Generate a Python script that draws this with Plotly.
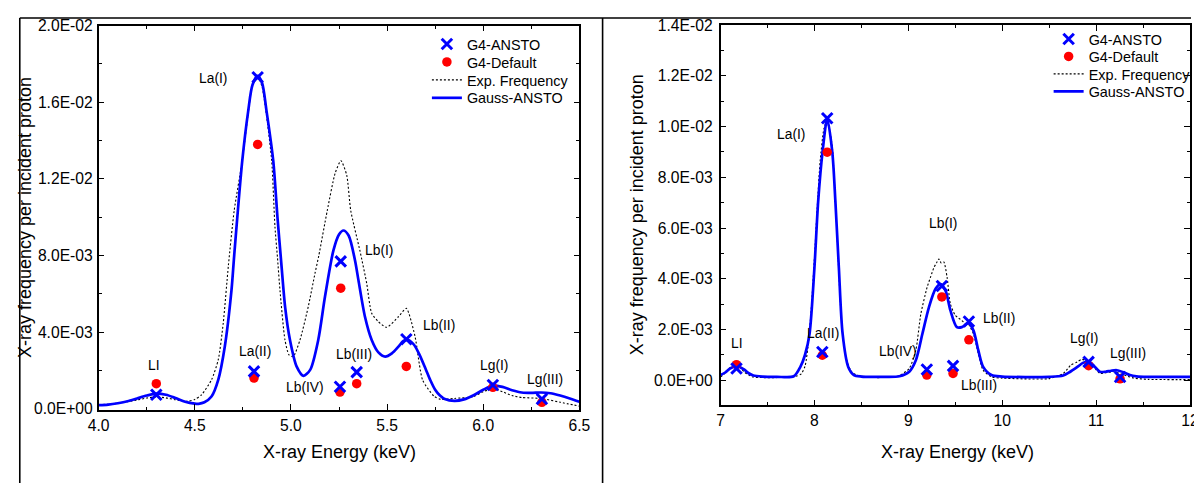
import plotly.graph_objects as go

# ---------------- data (left panel) ----------------
L_lines = ["LI", "La(I)", "La(II)", "Lb(I)", "Lb(IV)", "Lb(III)", "Lb(II)", "Lg(I)", "Lg(III)"]
L_energy = [4.30, 4.827, 4.808, 5.259, 5.255, 5.342, 5.600, 6.050, 6.305]
L_g4_ansto = [0.74e-3, 1.73e-2, 1.96e-3, 7.70e-3, 1.16e-3, 1.92e-3, 3.64e-3, 1.25e-3, 0.52e-3]
L_g4_default = [1.32e-3, 1.38e-2, 1.61e-3, 6.30e-3, 0.88e-3, 1.32e-3, 2.22e-3, 1.13e-3, 0.35e-3]

L_gauss_E = [4.00, 4.05, 4.10, 4.15, 4.20, 4.25, 4.30, 4.35, 4.40, 4.45, 4.50, 4.52, 4.55, 4.587,
             4.622, 4.656, 4.691, 4.705, 4.747, 4.778, 4.80, 4.827, 4.85, 4.873, 4.908, 4.93,
             4.95, 4.97, 4.995, 5.03, 5.065, 5.10, 5.142, 5.177, 5.221, 5.25, 5.273, 5.30,
             5.333, 5.351, 5.385, 5.42, 5.455, 5.49, 5.525, 5.559, 5.585, 5.61, 5.64, 5.67,
             5.70, 5.725, 5.75, 5.775, 5.80, 5.85, 5.90, 5.95, 6.00, 6.05, 6.10, 6.15, 6.20,
             6.25, 6.30, 6.35, 6.40, 6.45, 6.50]
L_gauss_V = [0.20, 0.23, 0.30, 0.40, 0.55, 0.70, 0.80, 0.74, 0.57, 0.38, 0.28, 0.27, 0.35, 0.65,
             1.52, 3.25, 6.2, 8.0, 12.95, 15.55, 16.9, 17.37, 17.0, 15.55, 12.95, 10.0,
             7.6, 5.3, 3.6, 2.21, 1.73, 2.04, 3.6, 5.85, 8.27, 9.1, 9.31, 9.05,
             7.76, 6.72, 4.81, 3.6, 2.95, 2.73, 2.9, 3.25, 3.55, 3.6, 3.35, 2.8,
             2.1, 1.5, 1.0, 0.7, 0.52, 0.42, 0.5, 0.72, 1.0, 1.22, 1.15, 0.98, 0.86,
             0.84, 0.86, 0.82, 0.70, 0.55, 0.38]

L_exp_E = [4.00, 4.05, 4.10, 4.15, 4.20, 4.25, 4.30, 4.35, 4.40, 4.466, 4.50, 4.535, 4.587,
           4.622, 4.648, 4.675, 4.705, 4.747, 4.78, 4.80, 4.827, 4.85, 4.87, 4.90, 4.917,
           4.93, 4.943, 4.969, 4.99, 5.012, 5.047, 5.09, 5.125, 5.145, 5.189, 5.23, 5.26,
           5.29, 5.311, 5.36, 5.394, 5.42, 5.455, 5.498, 5.559, 5.60, 5.645, 5.685, 5.745,
           5.78, 5.85, 5.95, 6.00, 6.05, 6.10, 6.15, 6.20, 6.30, 6.40, 6.50]
L_exp_V = [0.22, 0.25, 0.30, 0.38, 0.47, 0.57, 0.63, 0.58, 0.48, 0.40, 0.50, 0.74, 1.52,
           2.56, 4.47, 7.5, 10.35, 12.95, 15.6, 16.9, 17.35, 16.8, 15.55, 12.95, 9.5,
           7.9, 6.2, 3.6, 2.82, 2.73, 3.6, 5.33, 7.07, 8.0, 10.35, 12.3, 12.95,
           12.2, 10.35, 8.2, 6.55, 4.99, 4.55, 4.26, 4.81, 5.25, 3.8, 1.5, 0.66,
           0.5, 0.55, 0.65, 0.9, 1.05, 0.9, 0.7, 0.6, 0.55, 0.35, 0.15]

L_xtick_vals = [4.0, 4.5, 5.0, 5.5, 6.0, 6.5]
L_xtick_text = ["4.0", "4.5", "5.0", "5.5", "6.0", "6.5"]
L_ytick_vals = [0.0, 0.004, 0.008, 0.012, 0.016, 0.020]
L_ytick_text = ["0.0E+00", "4.0E-03", "8.0E-03", "1.2E-02", "1.6E-02", "2.0E-02"]

L_label_E = [4.288, 4.597, 4.812, 5.46, 5.073, 5.328, 5.77, 6.056, 6.32]
L_label_V = [2.27e-3, 1.726e-2, 3.03e-3, 8.31e-3, 1.17e-3, 2.87e-3, 4.38e-3, 2.30e-3, 1.58e-3]

# ---------------- data (right panel) ----------------
R_lines = ["LI", "La(I)", "La(II)", "Lb(I)", "Lb(IV)", "Lb(III)", "Lb(II)", "Lg(I)", "Lg(III)"]
R_energy = [7.17, 8.136, 8.084, 9.357, 9.197, 9.476, 9.645, 10.92, 11.255]
R_g4_ansto = [0.46e-3, 1.033e-2, 1.11e-3, 3.71e-3, 0.42e-3, 0.56e-3, 2.31e-3, 0.72e-3, 0.12e-3]
R_g4_default = [0.61e-3, 0.899e-2, 0.98e-3, 3.28e-3, 0.20e-3, 0.26e-3, 1.59e-3, 0.57e-3, 0.05e-3]

R_gauss_E = [7.00, 7.05, 7.10, 7.17, 7.25, 7.30, 7.35, 7.45, 7.60, 7.78, 7.85, 7.90, 7.948,
             8.00, 8.04, 8.087, 8.136, 8.19, 8.223, 8.26, 8.30, 8.36, 8.42, 8.50, 8.70,
             8.906, 9.01, 9.08, 9.15, 9.22, 9.29, 9.343, 9.396, 9.448, 9.517, 9.57, 9.64,
             9.693, 9.745, 9.797, 9.885, 10.0, 10.5, 10.65, 10.72, 10.80, 10.86, 10.92,
             10.98, 11.04, 11.10, 11.16, 11.22, 11.30, 11.36, 11.43, 11.55, 12.00]
R_gauss_V = [0.20, 0.30, 0.45, 0.56, 0.42, 0.27, 0.18, 0.14, 0.13, 0.15, 0.52, 1.0, 1.83,
             4.44, 7.06, 9.02, 10.3, 9.0, 7.06, 4.44, 1.83, 0.52, 0.2, 0.14, 0.13,
             0.15, 0.33, 0.78, 1.83, 2.88, 3.6, 3.79, 3.53, 2.75, 2.09, 2.09, 2.25,
             1.96, 1.18, 0.52, 0.20, 0.14, 0.13, 0.18, 0.32, 0.52, 0.68, 0.74,
             0.55, 0.33, 0.33, 0.37, 0.39, 0.30, 0.20, 0.15, 0.13, 0.13]

R_exp_E = [7.00, 7.05, 7.09, 7.13, 7.17, 7.21, 7.25, 7.30, 7.35, 7.46, 7.60, 7.70, 7.80,
           7.86, 7.90, 7.94, 7.97, 8.00, 8.03, 8.06, 8.10, 8.13, 8.16, 8.19, 8.22, 8.25,
           8.28, 8.31, 8.35, 8.40, 8.45, 8.55, 8.70, 8.90, 9.01, 9.08, 9.133, 9.20, 9.24,
           9.273, 9.30, 9.325, 9.35, 9.378, 9.413, 9.448, 9.50, 9.535, 9.57, 9.60, 9.64,
           9.693, 9.745, 9.797, 9.885, 10.0, 10.5, 10.65, 10.73, 10.80, 10.85, 10.93,
           11.04, 11.12, 11.19, 11.30, 11.40, 11.55, 12.00]
R_exp_V = [0.13, 0.28, 0.46, 0.55, 0.60, 0.50, 0.33, 0.20, 0.12, 0.10, 0.10, 0.12, 0.15,
           0.25, 0.55, 1.6, 3.0, 4.8, 6.8, 8.6, 9.9, 10.2, 9.9, 9.2, 7.3, 5.0,
           2.8, 1.5, 0.7, 0.3, 0.2, 0.12, 0.10, 0.17, 0.46, 1.18, 2.61, 3.66, 4.1,
           4.44, 4.62, 4.78, 4.62, 4.66, 4.05, 3.0, 2.55, 2.45, 2.35, 2.25, 2.2,
           1.83, 1.05, 0.39, 0.13, 0.08, 0.06, 0.26, 0.59, 0.72, 0.82, 0.70,
           0.27, 0.30, 0.33, 0.20, 0.08, 0.03, 0.02]

R_xtick_vals = [7, 8, 9, 10, 11, 12]
R_xtick_text = ["7", "8", "9", "10", "11", "12"]
R_ytick_vals = [0.0, 0.002, 0.004, 0.006, 0.008, 0.010, 0.012, 0.014]
R_ytick_text = ["0.0E+00", "2.0E-03", "4.0E-03", "6.0E-03", "8.0E-03", "1.0E-02", "1.2E-02", "1.4E-02"]

R_label_E = [7.174, 7.75, 8.09, 9.374, 8.89, 9.75, 9.97, 10.87, 11.34]
R_label_V = [1.46e-3, 9.71e-3, 1.85e-3, 6.2e-3, 1.15e-3, -0.2e-3, 2.45e-3, 1.65e-3, 1.05e-3]

# ---------------- figure geometry ----------------
# The page body keeps its default 8px margin; the photographed picture is slightly
# shrunk toward its centre, so target positions are mapped through that measured shrink.
W, H = 1194, 482
OFF = 8
SX, CX = 0.982, 9.8
SY, CY = 0.970, 8.0


def px(xt):  # target picture x -> paper
    return ((xt - CX) / SX - OFF) / W


def py(yt):  # target picture y -> paper
    return 1 - ((yt - CY) / SY - OFF) / H


def clamp(v):
    return max(0.0, min(1.0, v))


FONT = "Liberation Sans, Arial, sans-serif"
BLUE = "#0000FF"
RED = "#FF0000"
K = 1 / 0.976  # font compensation for the shrink

fig = go.Figure()


def add_panel(xa, ya, legs, gE, gV, eE, eV, En, ansto, default):
    fig.add_trace(go.Scatter(
        x=eE, y=[v * 1e-3 for v in eV], mode="lines", name="Exp. Frequency",
        line=dict(color="black", width=1.1, dash="2px,2px", shape="spline", smoothing=0.6),
        xaxis=xa, yaxis=ya, legend=legs[2]))
    fig.add_trace(go.Scatter(
        x=gE, y=[v * 1e-3 for v in gV], mode="lines", name="Gauss-ANSTO",
        line=dict(color=BLUE, width=2.7, shape="spline", smoothing=0.8),
        xaxis=xa, yaxis=ya, legend=legs[3]))
    fig.add_trace(go.Scatter(
        x=En, y=default, mode="markers", name="G4-Default",
        marker=dict(symbol="circle", size=9.5, color=RED, line=dict(width=0)),
        xaxis=xa, yaxis=ya, legend=legs[1]))
    fig.add_trace(go.Scatter(
        x=En, y=ansto, mode="markers", name="G4-ANSTO",
        marker=dict(symbol="x-thin", size=10.5, color=BLUE, line=dict(width=3, color=BLUE)),
        xaxis=xa, yaxis=ya, legend=legs[0]))


add_panel("x", "y", ["legend", "legend2", "legend3", "legend4"],
          L_gauss_E, L_gauss_V, L_exp_E, L_exp_V, L_energy, L_g4_ansto, L_g4_default)
add_panel("x2", "y2", ["legend5", "legend6", "legend7", "legend8"],
          R_gauss_E, R_gauss_V, R_exp_E, R_exp_V, R_energy, R_g4_ansto, R_g4_default)

TICKFONT = dict(family=FONT, size=15.3 * K, color="black")
axis_common = dict(showline=True, linecolor="black", linewidth=1.5, mirror="allticks",
                   ticks="inside", ticklen=6, tickwidth=1.3, tickcolor="black",
                   showgrid=False, zeroline=False, tickmode="array", tickfont=TICKFONT)


def minor(d):
    return dict(tickmode="linear", tick0=0, dtick=d, ticks="inside", ticklen=3.5,
                tickwidth=1.2, tickcolor="black")


layout = dict(
    width=W, height=H,
    margin=dict(l=0, r=0, t=0, b=0),
    paper_bgcolor="white", plot_bgcolor="white",
    font=dict(family=FONT, color="black"),
    showlegend=True,
    xaxis=dict(domain=[px(97.3), px(578.3)], range=[4.0, 6.5], anchor="y",
               tickvals=L_xtick_vals, ticktext=L_xtick_text, ticklabelstandoff=0,
               minor=minor(0.25), **axis_common),
    yaxis=dict(domain=[py(410), py(24.3)], range=[-0.00005, 0.020], anchor="x",
               tickvals=L_ytick_vals, ticktext=L_ytick_text, ticklabelstandoff=1,
               minor=minor(0.002), **axis_common),
    xaxis2=dict(domain=[px(719.5), clamp((1201 - OFF) / W)], range=[7, 12], anchor="y2",
                tickvals=R_xtick_vals, ticktext=R_xtick_text, ticklabelstandoff=0,
                minor=minor(0.5), **axis_common),
    yaxis2=dict(domain=[py(405.5), py(24)], range=[-0.001, 0.014], anchor="x2",
                tickvals=R_ytick_vals, ticktext=R_ytick_text, ticklabelstandoff=3,
                minor=minor(0.001), **axis_common),
)

# one single-entry legend per row so that rows sit where the reference puts them
LEG_FONT = dict(family=FONT, size=14.4, color="black")
left_rows = [43, 61, 79, 97]
right_rows = [38, 55.5, 73, 90.5]
for i, yrow in enumerate(left_rows):
    key = "legend" if i == 0 else f"legend{i + 1}"
    layout[key] = dict(x=px(466) - 41 / W, y=py(yrow), xanchor="left", yanchor="middle",
                       bgcolor="rgba(0,0,0,0)", font=LEG_FONT, itemwidth=30, borderwidth=0)
for i, yrow in enumerate(right_rows):
    key = f"legend{i + 5}"
    layout[key] = dict(x=px(1088) - 41 / W, y=py(yrow), xanchor="left", yanchor="middle",
                       bgcolor="rgba(0,0,0,0)", font=LEG_FONT, itemwidth=30, borderwidth=0)
fig.update_layout(**layout)

annotations = []
LBL_FONT = dict(family=FONT, size=13.5 * K, color="black")
for name, ex, vy in zip(L_lines, L_label_E, L_label_V):
    annotations.append(dict(x=ex, y=vy, xref="x", yref="y", text=name, showarrow=False,
                            font=LBL_FONT, xanchor="center", yanchor="middle"))
for name, ex, vy in zip(R_lines, R_label_E, R_label_V):
    annotations.append(dict(x=ex, y=vy, xref="x2", yref="y2", text=name, showarrow=False,
                            font=LBL_FONT, xanchor="center", yanchor="middle"))

title_font = dict(family=FONT, size=18, color="black")
annotations += [
    dict(x=px(337.8), y=py(452), xref="paper", yref="paper",
         text="X-ray Energy (keV)", showarrow=False, font=title_font,
         xanchor="center", yanchor="middle"),
    dict(x=px(957), y=py(452), xref="paper", yref="paper",
         text="X-ray Energy (keV)", showarrow=False, font=title_font,
         xanchor="center", yanchor="middle"),
    dict(x=6.3 / W, y=py(217.3), xref="paper", yref="paper",
         text="X-ray frequency per incident proton", showarrow=False, font=title_font,
         textangle=-90, xanchor="center", yanchor="middle"),
    dict(x=px(636), y=py(214.7), xref="paper", yref="paper",
         text="X-ray frequency per incident proton", showarrow=False, font=title_font,
         textangle=-90, xanchor="center", yanchor="middle"),
]
fig.update_layout(annotations=annotations)

# outer frame lines
frame = dict(type="line", xref="paper", yref="paper", line=dict(color="black", width=1.6))
fig.update_layout(shapes=[
    dict(frame, x0=0.8 / W, x1=0.8 / W, y0=0, y1=1 - 1 / H),
    dict(frame, x0=0.8 / W, x1=1, y0=1 - 1 / H, y1=1 - 1 / H),
    dict(frame, x0=px(601.5), x1=px(601.5), y0=0, y1=1 - 1 / H),
])

fig.write_html("out.html", config={"displayModeBar": False})
